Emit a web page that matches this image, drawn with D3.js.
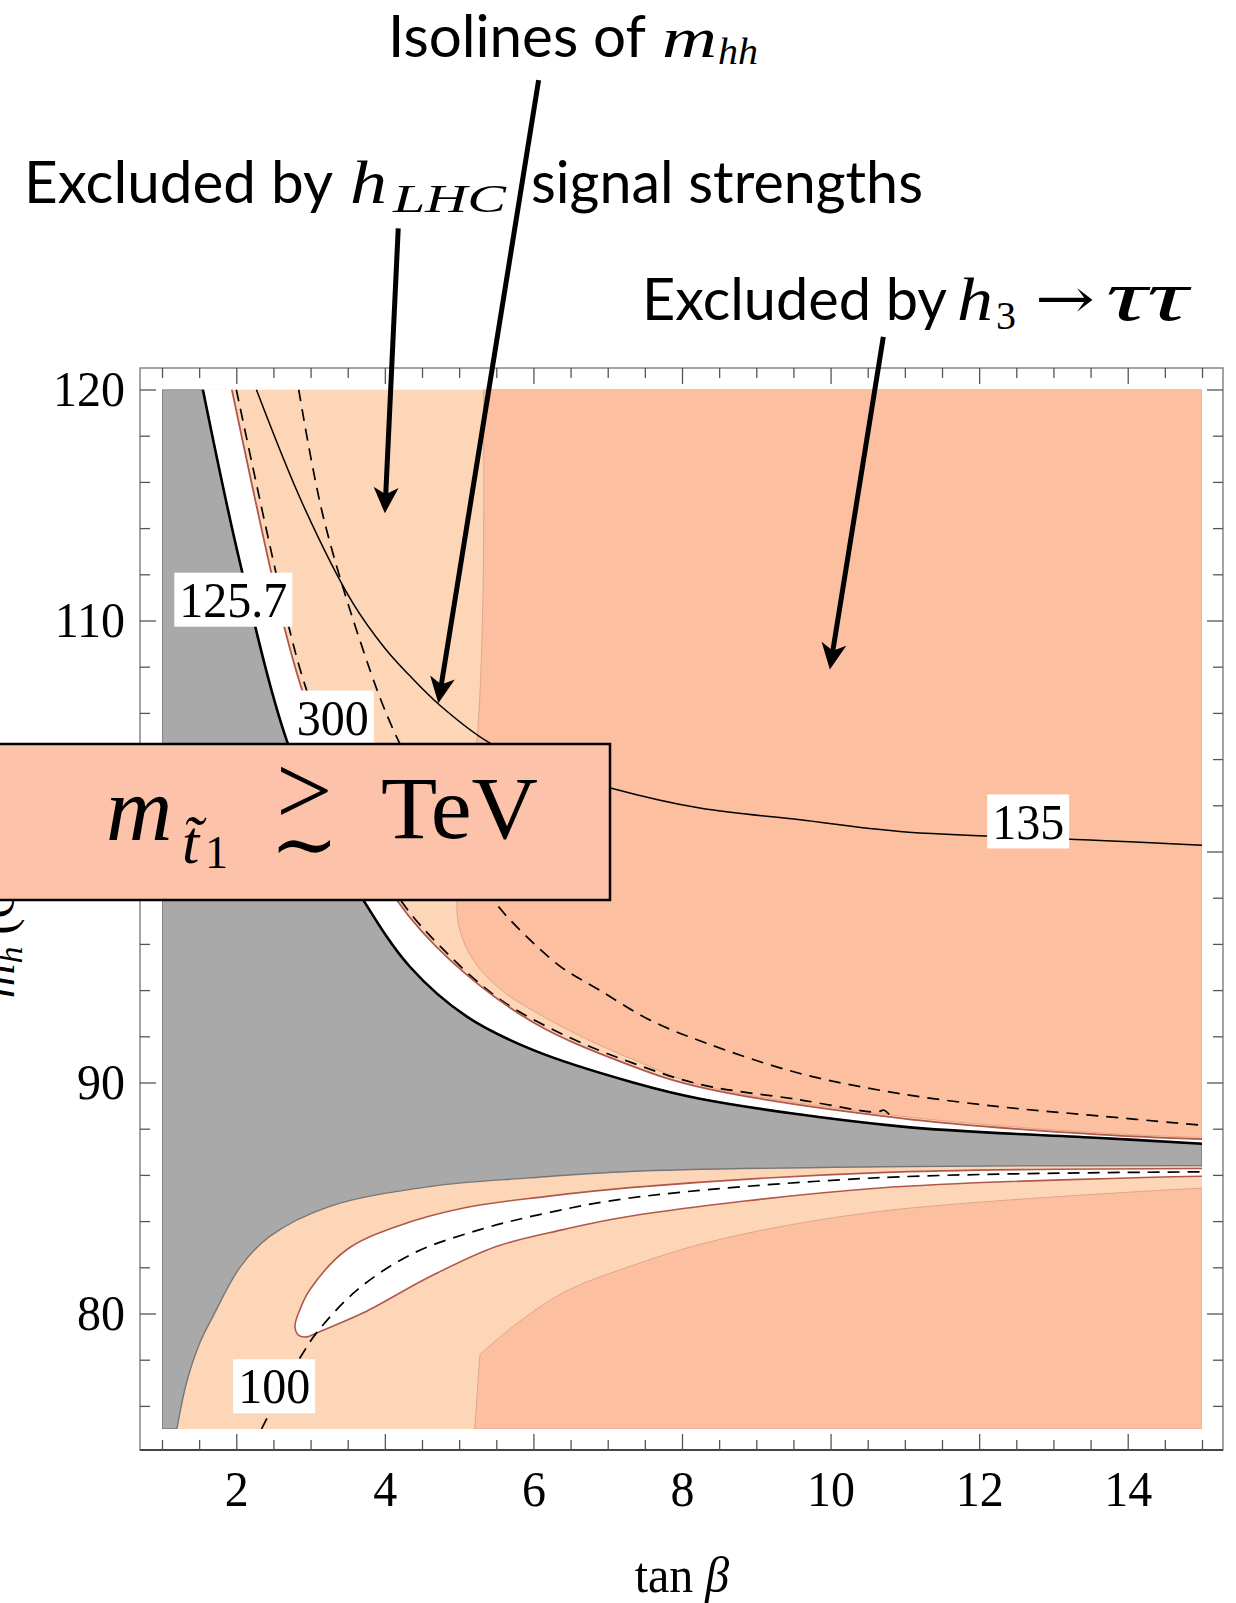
<!DOCTYPE html>
<html>
<head>
<meta charset="utf-8">
<script src="https://cdn.jsdelivr.net/npm/d3@7"></script>
<style>
  body { margin: 0; background: #fff; }
  svg { display: block; }
</style>
</head>
<body>
<div id="chart"></div>
<script>
// tick values
var xMajor = [2, 4, 6, 8, 10, 12, 14];
var xMinor = [1, 1.5, 2.5, 3, 3.5, 4.5, 5, 5.5, 6.5, 7, 7.5, 8.5, 9, 9.5, 10.5, 11, 11.5, 12.5, 13, 13.5, 14.5, 15];
var yMajor = [80, 90, 100, 110, 120];
var yMinor = [76, 78, 82, 84, 86, 88, 92, 94, 96, 98, 102, 104, 106, 108, 112, 114, 116, 118];

// curves, [tan beta, y]
var iso1257 = [[1.55,120],[2.05,112.5],[2.68,104.8],[3.2,100.9],[3.71,97.9],[4.34,95.0],[5.1,92.86],[6.0,91.4],[7.34,90.0],[8.24,89.3],[10.93,88.1],[13.63,87.6],[15,87.35]];
var grayLower = [[1.2,75],[1.33,77.0],[1.51,78.73],[1.69,79.9],[2.05,82.0],[2.45,83.34],[3.26,84.64],[4.61,85.5],[5.95,85.87],[7.3,86.15],[10.66,86.35],[15,86.41]];
var lhcUpper = [[1.94,120],[2.61,110.17],[2.9,106.85],[3.5,101.8],[4.16,97.9],[4.88,95.3],[6.0,92.6],[7.34,90.7],[8.24,89.8],[10.93,88.46],[13.63,87.74],[15,87.55]];
var islandTop = [[2.79,79.45],[2.86,80.2],[2.99,81.03],[3.49,82.77],[4.16,83.77],[5.06,84.57],[6.18,85.07],[7.3,85.45],[10.66,86.1],[15,86.28]];
var islandBottom = [[2.84,79.05],[2.95,78.99],[3.08,79.16],[3.71,80.03],[4.61,81.6],[5.5,82.9],[6.4,83.63],[7.3,84.21],[10.66,85.43],[15,85.94]];
var tautauUpper = [[5.33,120],[5.32,110.9],[5.24,104.8],[5.1,101.3],[4.97,97.9],[5.01,96.6],[5.19,95.3],[5.55,94.05],[6.0,93.1],[6.67,91.95],[7.34,91.0],[8.24,89.9],[10.93,88.55],[13.63,87.82],[15,87.62]];
var tautauLower = [[5.21,75],[5.28,78.22],[5.73,79.45],[6.4,80.9],[7.3,82.04],[8.5,83.2],[10.66,84.42],[15,85.43]];
var iso300 = [[2.0,120],[2.67,110.2],[2.96,106.85],[3.56,101.8],[4.2,97.95],[4.79,95.75],[5.55,93.6],[6.45,92.0],[7.34,90.84],[8.24,89.92],[9.59,89.25],[10.62,88.72],[10.72,88.8],[10.82,88.5]];
var isoDash = [[2.84,120],[3.17,114.5],[3.71,108.7],[4.11,105.3],[4.75,101.4],[5.46,97.9],[5.77,96.76],[6.36,95.03],[6.89,94.0],[7.57,92.7],[8.33,91.7],[9.59,90.39],[10.93,89.52],[12.28,88.95],[13.45,88.6],[15,88.15]];
var iso135 = [[2.27,120],[2.9,115.0],[3.57,110.75],[4.0,108.8],[4.32,107.66],[4.74,106.33],[5.41,104.7],[6.2,103.6],[7.05,102.74],[8.24,101.88],[9.59,101.37],[10.93,100.87],[13.63,100.48],[15,100.27]];
var iso100 = [[2.34,75],[2.62,76.75],[2.9,78.3],[3.08,79.16],[3.62,81.0],[4.38,82.6],[5.28,83.63],[6.18,84.35],[7.3,85.0],[10.66,85.88],[15,86.13]];

// contour labels: text, tan beta, y
var contourLabels = [["125.7", 1.96, 110.9], ["300", 3.3, 105.8], ["135", 12.66, 101.3], ["100", 2.51, 76.85]];
// arrows: from, to (tan beta, y)
var arrows = [[[4.18,126.98],[4.0,114.64]], [[6.07,133.39],[4.72,106.42]], [[10.71,122.28],[9.99,107.88]]];

var W = 1236, H = 1603;
var svg = d3.select("#chart").append("svg").attr("width", W).attr("height", H);

var x = d3.scaleLinear().domain([1, 15]).range([162, 1202]);
var y = d3.scaleLinear().domain([75, 120]).range([1429, 389.5]);

var line = d3.line().x(function (d) { return x(d[0]); }).y(function (d) { return y(d[1]); })
    .curve(d3.curveCatmullRom.alpha(0.5));
function cont(p) { return p.replace(/^M/, "L"); }
function pt(t, v) { return x(t) + "," + y(v); }

var light = "#fdd6b8", dark = "#fcc0a1", grey = "#a9a9a9", red = "#b2584b";

svg.append("clipPath").attr("id", "clip").append("rect")
    .attr("x", x(1)).attr("y", y(120)).attr("width", x(15) - x(1)).attr("height", y(75) - y(120));

var plot = svg.append("g").attr("clip-path", "url(#clip)");

plot.append("rect").attr("x", x(1)).attr("y", y(120))
    .attr("width", x(15) - x(1)).attr("height", y(75) - y(120)).attr("fill", light);

// h3 -> tau tau regions
plot.append("path").attr("d", line(tautauUpper) + "L" + pt(15, 120) + "Z")
    .attr("fill", dark).attr("stroke", "#e0a68a").attr("stroke-width", 1);
plot.append("path").attr("d", "M" + pt(tautauLower[0][0], tautauLower[0][1]) + cont(line(tautauLower.slice(1))) + "L" + pt(15, 75) + "Z")
    .attr("fill", dark).attr("stroke", "#e0a68a").attr("stroke-width", 1);

// allowed (white) band and island
plot.append("path").attr("d", line(iso1257) + cont(line(lhcUpper.slice().reverse())) + "Z")
    .attr("fill", "#fff");
var island = islandTop.slice().reverse().concat(islandBottom);
plot.append("path").attr("d", line(island) + "Z").attr("fill", "#fff");
plot.append("path").attr("d", line(island)).attr("fill", "none")
    .attr("stroke", red).attr("stroke-width", 1.6);

// grey excluded region
plot.append("path")
    .attr("d", "M" + pt(1, 120) + cont(line(iso1257)) + "L" + pt(15, 86.41) +
        cont(line(grayLower.slice().reverse())) + "L" + pt(1, 75) + "Z")
    .attr("fill", grey).attr("stroke", "#777").attr("stroke-width", 1.4);

// isolines
var dashed = [iso300, isoDash, iso100];
plot.selectAll(".dash").data(dashed).enter().append("path")
    .attr("d", line).attr("fill", "none").attr("stroke", "#000")
    .attr("stroke-width", 1.7).attr("stroke-dasharray", "12,8");
plot.append("path").attr("d", line(iso135)).attr("fill", "none")
    .attr("stroke", "#000").attr("stroke-width", 1.5);
plot.append("path").attr("d", line(lhcUpper)).attr("fill", "none")
    .attr("stroke", red).attr("stroke-width", 1.8);
plot.append("path").attr("d", line(iso1257)).attr("fill", "none")
    .attr("stroke", "#000").attr("stroke-width", 2.6);

// contour labels
var serif = "'Liberation Serif', 'Times New Roman', serif";
var FS = 48, SY = 1.05;
var lab = plot.selectAll(".clab").data(contourLabels).enter().append("g")
    .attr("transform", function (d) { return "translate(" + x(d[1]) + "," + y(d[2]) + ")"; });
lab.append("text").text(function (d) { return d[0]; })
    .attr("font-family", serif).attr("font-size", FS).attr("text-anchor", "middle")
    .attr("dy", "0.34em").attr("transform", "scale(1," + SY + ")");
lab.each(function () {
  var g = d3.select(this), b = g.select("text").node().getBBox();
  g.insert("rect", "text").attr("x", b.x - 5).attr("y", -27)
      .attr("width", b.width + 10).attr("height", 54).attr("fill", "#fff");
});

// frame and ticks
svg.append("rect").attr("x", 140).attr("y", 368).attr("width", 1083).attr("height", 1082)
    .attr("fill", "none").attr("stroke", "#858585").attr("stroke-width", 1.5);
svg.append("line").attr("x1", 140).attr("x2", 1223).attr("y1", 1450).attr("y2", 1450)
    .attr("stroke", "#444").attr("stroke-width", 2);

function ticks(axis, tx, ty) {
  var g = svg.append("g").attr("transform", "translate(" + tx + "," + ty + ")").call(axis);
  g.select(".domain").remove();
  g.selectAll(".tick line").attr("stroke", "#555").attr("stroke-width", 1.3);
  return g;
}
ticks(d3.axisBottom(x).tickValues(xMinor).tickSize(-10).tickFormat(""), 0, 1450);
ticks(d3.axisTop(x).tickValues(xMinor).tickSize(-10).tickFormat(""), 0, 368);
ticks(d3.axisTop(x).tickValues(xMajor).tickSize(-16).tickFormat(""), 0, 368);
ticks(d3.axisLeft(y).tickValues(yMinor).tickSize(-10).tickFormat(""), 140, 0);
ticks(d3.axisRight(y).tickValues(yMinor).tickSize(-10).tickFormat(""), 1223, 0);
ticks(d3.axisRight(y).tickValues(yMajor).tickSize(-16).tickFormat(""), 1223, 0);

var bx = ticks(d3.axisBottom(x).tickValues(xMajor).tickSize(-16).tickPadding(19), 0, 1450);
bx.selectAll("text").attr("font-family", serif).attr("font-size", FS).attr("fill", "#000")
    .attr("transform", "scale(1," + SY + ")");
// the 100 label sits under the stop-mass box in the figure
var ly = ticks(d3.axisLeft(y).tickValues(yMajor).tickSize(-16).tickPadding(15)
    .tickFormat(function (d) { return d === 100 ? "" : d; }), 140, 0);
ly.selectAll("text").attr("font-family", serif).attr("font-size", FS).attr("fill", "#000")
    .attr("transform", "scale(1," + SY + ")");

// axis titles
svg.append("text").attr("x", 682).attr("y", 1592 / SY).attr("transform", "scale(1," + SY + ")")
    .attr("font-family", serif).attr("font-size", FS).attr("text-anchor", "middle")
    .html("tan <tspan font-style='italic'>\u03b2</tspan>");
svg.append("text").attr("transform", "translate(14,905) rotate(-90)")
    .attr("font-family", serif).attr("font-size", FS).attr("text-anchor", "middle")
    .html("<tspan font-style='italic'>m</tspan><tspan font-size='34' dy='8' font-style='italic'>h</tspan><tspan dy='-8'> (GeV)</tspan>");

// stop mass box
svg.append("rect").attr("x", -4).attr("y", 744).attr("width", 614).attr("height", 156)
    .attr("fill", "#fdc2aa").attr("stroke", "#000").attr("stroke-width", 2.5);
function txt(s, px, py, size, o) {
  o = o || {};
  var t = svg.append("text").attr("x", px).attr("y", py).text(s)
      .attr("font-family", o.family || serif).attr("font-size", size)
      .attr("font-style", o.italic ? "italic" : "normal");
  if (o.width) t.attr("textLength", o.width).attr("lengthAdjust", o.adjust || "spacingAndGlyphs");
  return t;
}
var mt = svg.append("text").attr("x", 106).attr("y", 840).attr("font-family", serif);
mt.append("tspan").attr("font-size", 92).attr("font-style", "italic").text("m");
mt.append("tspan").attr("x", 182).attr("y", 863).attr("font-size", 62).attr("font-style", "italic").text("t\u0303");
mt.append("tspan").attr("x", 205).attr("y", 868).attr("font-size", 46).text("1");
var ge = svg.append("text").attr("x", 276).attr("y", 824).attr("font-family", serif);
ge.append("tspan").attr("font-size", 100).text(">");
ge.append("tspan").attr("x", 270).attr("y", 872).attr("font-size", 82)
    .attr("font-family", "'DejaVu Serif', serif").text("\u223c");
txt("TeV", 381, 838, 88, { width: 157 });

// annotations
var sans = "Lato, 'Open Sans', sans-serif";
txt("Isolines of", 388, 57, 58, { family: sans, width: 258 });
txt("m", 662, 57, 58, { italic: true, width: 55 });
txt("hh", 718, 64, 38, { italic: true, width: 40 });

txt("Excluded by", 24, 203, 58, { family: sans, width: 309 });
txt("h", 350, 203, 62, { italic: true, width: 37 });
txt("LHC", 393, 212, 40, { italic: true, width: 113 });
txt("signal strengths", 531, 203, 58, { family: sans, width: 392 });

txt("Excluded by", 642, 320, 58, { family: sans, width: 305 });
txt("h", 957, 320, 62, { italic: true, width: 36 });
txt("3", 996, 329, 40, { width: 20 });
txt("\u2192", 1035, 318, 56, { family: "'DejaVu Serif', serif", width: 60 });
txt("\u03c4\u03c4", 1106, 320, 72, { italic: true, width: 82 });

// arrows
arrows.forEach(function (a) {
  var x0 = x(a[0][0]), y0 = y(a[0][1]), x1 = x(a[1][0]), y1 = y(a[1][1]);
  var len = Math.hypot(x1 - x0, y1 - y0), ux = (x1 - x0) / len, uy = (y1 - y0) / len;
  var px = -uy, py = ux;
  svg.append("line").attr("x1", x0).attr("y1", y0)
      .attr("x2", x1 - ux * 16).attr("y2", y1 - uy * 16)
      .attr("stroke", "#000").attr("stroke-width", 5);
  var head = [[x1, y1],
    [x1 - ux * 26 + px * 12.5, y1 - uy * 26 + py * 12.5],
    [x1 - ux * 19, y1 - uy * 19],
    [x1 - ux * 26 - px * 12.5, y1 - uy * 26 - py * 12.5]];
  svg.append("path").attr("d", "M" + head.join("L") + "Z").attr("fill", "#000");
});
</script>
</body>
</html>
